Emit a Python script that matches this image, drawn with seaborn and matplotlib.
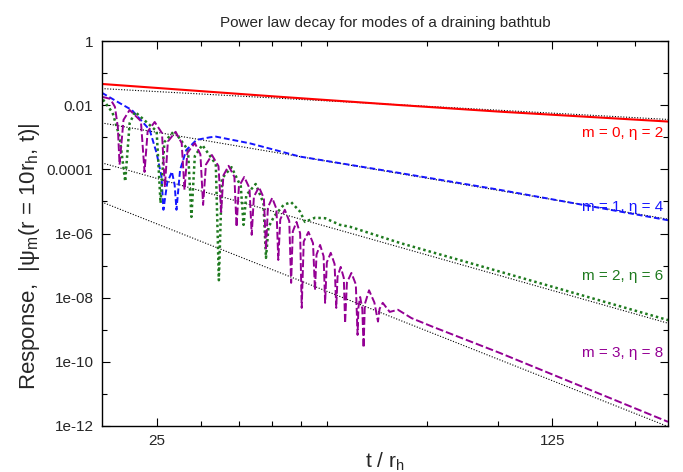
import numpy as np
import pandas as pd
import matplotlib
matplotlib.use("Agg")
import matplotlib.pyplot as plt
import seaborn as sns

# m = 0 (eta = 2)
t_m0 = [20.0, 40.0, 67.2, 100.9, 200.0]
psi_m0 = [4.6e-2, 1.9e-2, 1.01e-2, 6.3e-3, 3.1e-3]

# m = 1 (eta = 4)
t_m1 = [20.0, 21.5, 22.6, 24.3, 25.0, 25.5, 25.7, 26.1, 26.6, 26.9, 27.1, 27.3,
        27.5, 28.2, 29.4, 31.05, 31.8, 36.5, 44.8, 67.2, 100.9, 200.0]
psi_m1 = [2.45e-2, 1.17e-2, 7.1e-3, 1.7e-3, 3.2e-4, 5.9e-5, 5.5e-6, 3.8e-5, 8.5e-5,
          3.3e-5, 5.5e-6, 2.3e-5, 9.6e-5, 4.0e-4, 8.3e-4, 1.0e-3, 1.05e-3, 6.5e-4,
          2.5e-4, 7.7e-5, 2.3e-5, 2.6e-6]

# m = 2 (eta = 6)
t_m2 = [20.1, 20.9, 21.5, 22.0, 22.4, 22.9, 25.0, 25.4, 25.8, 26.85, 28.4, 28.8,
        29.2, 30.1, 31.8, 32.2, 32.6, 33.9, 35.2, 35.6, 36.0, 37.4, 38.6, 39.0,
        39.4, 40.3, 41.9, 43.2, 44.8, 45.7, 47.6, 49.6, 52.7, 54.9, 67.2, 100.9,
        200.0]
psi_m2 = [1.5e-2, 5.8e-3, 1.05e-3, 4.2e-5, 2.75e-3, 6.2e-3, 1.55e-3, 8.9e-6,
          7.1e-4, 1.58e-3, 4.0e-4, 3.3e-6, 2.6e-4, 5.75e-4, 1.45e-4, 3.5e-8,
          5.2e-5, 1.17e-4, 2.95e-5, 1.86e-6, 1.58e-5, 3.5e-5, 8.9e-6, 1.74e-7,
          1.58e-6, 3.4e-6, 7.8e-6, 9.5e-6, 4.8e-6, 2.3e-6, 3.1e-6, 3.0e-6, 1.86e-6,
          1.62e-6, 5.1e-7, 6.5e-8, 2.0e-9]

# m = 3 (eta = 8)
t_m3 = [20.1, 20.7, 21.1, 21.35, 21.5, 21.85, 22.4, 23.45, 23.8, 24.1, 24.8, 25.55,
        25.85, 26.17, 27.0, 27.68, 28.0, 28.33, 29.2, 29.87, 30.2, 30.55, 31.3,
        32.15, 32.5, 32.8, 33.5, 34.3, 34.6, 34.93, 35.7, 36.47, 36.8, 37.13, 37.9,
        38.67, 39.0, 39.3, 40.0, 40.7, 41.0, 41.33, 42.1, 42.87, 43.2, 43.49, 44.15,
        44.81, 45.1, 45.47, 46.35, 47.22, 47.6, 47.9, 48.6, 49.3, 49.6, 49.95,
        50.75, 51.55, 51.9, 52.18, 52.85, 53.52, 53.8, 54.2, 55.2, 56.2, 56.6,
        56.8, 57.2, 57.7, 58.0, 58.3, 59.3, 60.6, 61.5, 61.9, 62.7, 64.5, 66.7,
        70.5, 76.9, 100.9, 200.0]
psi_m3 = [1.8e-2, 1.58e-2, 8.9e-3, 2.1e-3, 1.4e-4, 3.5e-3, 7.1e-3, 3.2e-3, 8.3e-5,
          1.5e-3, 3.0e-3, 1.35e-3, 2.8e-5, 7.4e-4, 1.48e-3, 6.6e-4, 2.3e-5, 3.3e-4,
          6.6e-4, 2.95e-4, 7.8e-6, 1.41e-4, 2.8e-4, 1.26e-4, 4.7e-6, 6.5e-5,
          1.29e-4, 5.8e-5, 1.6e-6, 2.9e-5, 5.8e-5, 2.6e-5, 9.1e-7, 1.41e-5, 2.8e-5,
          1.26e-5, 3.1e-7, 6.5e-6, 1.29e-5, 5.8e-6, 1.5e-7, 2.75e-6, 5.5e-6,
          2.45e-6, 2.9e-8, 1.15e-6, 2.3e-6, 1.02e-6, 4.8e-9, 5.6e-7, 1.12e-6, 5.0e-7,
          1.7e-8, 2.2e-7, 4.4e-7, 1.95e-7, 6.9e-9, 1.26e-7, 2.5e-7, 1.12e-7, 4.8e-9,
          4.6e-8, 9.1e-8, 4.1e-8, 1.6e-9, 2.95e-8, 5.9e-8, 2.6e-8, 6.9e-10, 5.0e-9,
          1.05e-8, 4.5e-9, 2.75e-10, 6.3e-9, 1.7e-8, 7.1e-9, 1.8e-9, 4.5e-9, 6.9e-9,
          3.6e-9, 4.2e-9, 2.3e-9, 1.23e-9, 1.9e-10, 1.35e-12]

# power law reference lines (end points)
t_ref = [20.0, 200.0]
ref_m0 = [3.3e-2, 3.6e-3]
ref_m1 = [2.8e-3, 2.8e-6]
ref_m2 = [1.6e-4, 1.6e-9]
ref_m3 = [9.6e-6, 9.6e-13]

labels = ["m = 0, \u03b7 = 2", "m = 1, \u03b7 = 4", "m = 2, \u03b7 = 6", "m = 3, \u03b7 = 8"]
label_y = [1.35e-3, 6.8e-6, 4.8e-8, 1.9e-10]
colors = ["#ff0000", "#1515ff", "#1f7a1f", "#940094"]

sns.set_style("ticks")
plt.rcParams["font.family"] = ["Liberation Sans", "DejaVu Sans"]
plt.rcParams["mathtext.fontset"] = "custom"
plt.rcParams["mathtext.rm"] = "Liberation Sans"
plt.rcParams["mathtext.it"] = "Liberation Sans"
plt.rcParams["mathtext.default"] = "regular"

fig = plt.figure(figsize=(6.83, 4.72), dpi=100)
ax = fig.add_axes([0.149, 0.0975, 0.829, 0.8155])

for ref in [ref_m0, ref_m1, ref_m2, ref_m3]:
    sns.lineplot(x=t_ref, y=ref, ax=ax, color="black", lw=0.8,
                 linestyle=(0, (1, 1.5)), estimator=None)

sns.lineplot(x=t_m0, y=psi_m0, ax=ax, color=colors[0], lw=1.5, estimator=None)
sns.lineplot(x=t_m1, y=psi_m1, ax=ax, color=colors[1], lw=1.4,
             linestyle=(0, (3, 1.5)), estimator=None)
sns.lineplot(x=t_m2, y=psi_m2, ax=ax, color=colors[2], lw=1.8,
             linestyle=(0, (1, 1.2)), estimator=None)
sns.lineplot(x=t_m3, y=psi_m3, ax=ax, color=colors[3], lw=1.4,
             linestyle=(0, (4, 1.5)), estimator=None)

for lab, yy, c in zip(labels, label_y, colors):
    ax.text(196, yy, lab, color=c, ha="right", va="center", fontsize=11)

ax.set_xscale("log")
ax.set_yscale("log")
ax.set_xlim(20, 200)
ax.set_ylim(1e-12, 1)

ax.set_xticks([25, 125])
ax.set_xticklabels(["25", "125"])
ax.set_xticks([30, 35, 40, 45, 50, 75, 100, 150, 175], minor=True)
ax.set_xticklabels([], minor=True)
ax.set_yticks([1, 1e-2, 1e-4, 1e-6, 1e-8, 1e-10, 1e-12])
ax.set_yticklabels(["1", "0.01", "0.0001", "1e-06", "1e-08", "1e-10", "1e-12"])
ax.set_yticks([1e-1, 1e-3, 1e-5, 1e-7, 1e-9, 1e-11], minor=True)
ax.set_yticklabels([], minor=True)

ax.tick_params(which="both", direction="in", top=True, right=True, labelsize=11,
               color="black", width=0.8)
ax.tick_params(which="major", length=6, pad=6)
ax.tick_params(which="minor", length=3.5)
for s in ax.spines.values():
    s.set_linewidth(1.0)
    s.set_color("black")

ax.set_title("Power law decay for modes of a draining bathtub", fontsize=11, pad=10)
ax.set_xlabel("t / r$_h$", fontsize=15, labelpad=2)
ax.set_ylabel("Response,  |\u03c8$_m$(r = 10r$_h$, t)|", fontsize=16)
ax.yaxis.set_label_coords(-0.105, 0.44)

fig.savefig("out.png", dpi=100)
